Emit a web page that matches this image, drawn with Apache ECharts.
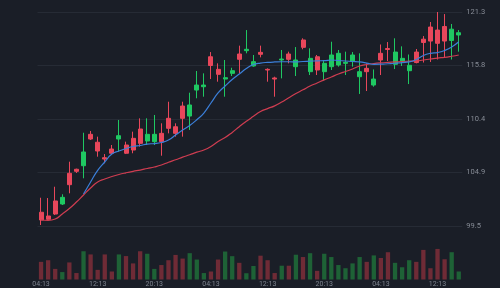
<!DOCTYPE html>
<html>
<head>
<meta charset="utf-8">
<script src="https://cdn.jsdelivr.net/npm/echarts@6/dist/echarts.min.js"></script>
<style>
html,body{margin:0;padding:0;background:#1a1e27;}
#c{width:500px;height:288px;}
</style>
</head>
<body>
<div id="c"></div>
<script>
const categories = ['04:13','05:13','06:13','07:13','08:13','09:13','10:13','11:13','12:13','13:13','14:13','15:13','16:13','17:13','18:13','19:13','20:13','21:13','22:13','23:13','00:13','01:13','02:13','03:13','04:13','05:13','06:13','07:13','08:13','09:13','10:13','11:13','12:13','13:13','14:13','15:13','16:13','17:13','18:13','19:13','20:13','21:13','22:13','23:13','00:13','01:13','02:13','03:13','04:13','05:13','06:13','07:13','08:13','09:13','10:13','11:13','12:13','13:13','14:13','15:13'];
const openV  = [100.11,100.18,100.72,102.42,103.71,105.07,107.04,108.36,107.14,106.32,106.91,108.70,106.91,107.24,107.92,108.84,108.84,108.09,109.45,108.94,110.47,111.83,113.86,113.86,115.85,114.95,114.61,115.32,116.48,117.50,116.24,116.99,115.39,114.47,116.51,116.48,116.41,117.70,116.58,115.39,116.07,116.92,117.09,116.17,116.92,115.22,115.22,114.47,116.41,117.48,117.22,116.58,115.87,116.15,118.19,118.34,118.11,118.34,119.55,119.19];
const closeV = [100.90,100.52,102.05,101.74,104.87,105.28,105.64,108.84,108.03,106.46,107.34,108.36,107.75,108.43,109.38,108.16,108.09,108.94,110.47,109.61,111.72,110.70,113.35,113.69,116.74,115.46,114.47,115.05,117.02,117.36,115.80,117.19,115.46,114.58,116.41,117.02,115.73,118.45,115.22,116.74,115.22,115.73,115.90,116.07,116.28,114.71,115.56,113.86,117.09,117.58,115.97,116.31,115.32,117.22,118.53,119.77,119.46,119.82,118.40,118.96];
const lowV   = [99.60,100.11,100.62,101.64,102.83,104.90,104.36,108.26,106.56,105.89,106.73,107.07,106.83,106.91,107.58,107.75,107.75,106.66,108.94,108.60,108.60,109.28,112.51,112.67,114.47,114.20,112.67,114.78,115.05,117.09,115.73,116.68,114.20,112.67,114.54,116.07,114.78,117.50,114.88,114.88,114.30,115.39,115.73,114.88,115.73,112.95,113.25,113.69,114.88,116.31,115.49,115.80,113.96,116.07,116.15,116.21,116.46,116.66,116.46,117.26];
const highV  = [102.38,102.35,103.50,102.73,106.05,105.34,109.00,109.18,108.60,106.83,107.75,110.30,108.09,109.11,110.47,110.47,110.81,109.96,112.16,109.96,112.16,113.08,115.29,115.05,117.22,116.07,116.41,115.62,117.87,119.46,116.92,117.87,115.56,114.71,117.43,117.26,117.73,118.62,117.60,116.92,116.41,118.27,117.43,117.26,117.22,117.09,116.07,115.45,117.99,118.24,118.62,117.80,116.97,117.53,118.85,120.28,121.30,121.09,120.08,119.46];
const volumeV = [18.3,20,11,7.7,17.7,6.7,29.3,26,10,26,8.3,26,24.3,16.7,29.3,26.7,11,15,20,25.5,21.7,27.3,20.7,6.7,8.3,20.7,29,24.2,17.3,6.5,14,24.7,20,6.7,14.3,14.3,25.7,23.3,27.3,9,26.7,23.3,15,11.7,16.7,23.3,18.3,25,22.3,28.3,17.3,12.7,20,18.3,30.7,11.7,31.7,21,28.3,8.3];
const maFast = ['-','-','-','-','-','-',102.76,103.98,105.17,106.02,106.83,107.14,107.39,107.60,107.70,107.85,107.90,108.01,108.26,108.77,109.28,109.74,110.32,111.01,112.03,113.05,113.76,114.42,114.98,115.54,115.95,116.10,116.17,116.21,116.23,116.23,116.21,116.26,116.29,116.33,116.34,116.41,116.36,116.31,116.26,116.21,116.10,115.97,115.98,116.03,116.08,116.15,116.21,116.46,116.87,117.09,117.17,117.38,117.73,118.27];
const maSlow = [100.11,100.08,100.21,100.72,101.28,101.94,102.66,103.37,103.98,104.29,104.54,104.75,104.92,105.07,105.20,105.36,105.51,105.71,106.00,106.25,106.51,106.76,107.02,107.24,107.60,108.11,108.51,109.03,109.62,110.17,110.67,111.16,111.46,111.74,112.13,112.57,112.99,113.37,113.76,114.07,114.39,114.68,114.98,115.24,115.49,115.80,115.95,116.05,116.12,116.17,116.21,116.26,116.29,116.31,116.41,116.51,116.61,116.68,116.79,116.92];
const priceTickLabels = ['99.5','104.9','110.4','115.8','121.3'];
const priceMin = 99.5, priceMax = 121.3;

const UP = '#e8475b', DOWN = '#1fc862';
const UP_VOL = '#6f2b36', DOWN_VOL = '#1e6236';

const candleData = categories.map((c, i) => [openV[i], closeV[i], lowV[i], highV[i]]);
const volData = volumeV.map((v, i) => ({
  value: v,
  itemStyle: { color: closeV[i] >= openV[i] ? UP_VOL : DOWN_VOL }
}));

const chart = echarts.init(document.getElementById('c'), null, { renderer: 'canvas' });
chart.setOption({
  backgroundColor: '#1a1e27',
  animation: false,
  grid: [
    { left: 37.5, right: 37.7, top: 12, height: 214 },
    { left: 37.5, right: 37.7, top: 239, height: 42 }
  ],
  xAxis: [
    { type: 'category', gridIndex: 0, data: categories, boundaryGap: true,
      axisLine: { show: false }, axisTick: { show: false }, axisLabel: { show: false }, splitLine: { show: false } },
    { type: 'category', gridIndex: 1, data: categories, boundaryGap: true,
      axisLine: { show: false }, axisTick: { show: false }, splitLine: { show: false },
      axisLabel: { interval: 7, color: '#7f8590', fontSize: 7, margin: 1.5, fontFamily: 'Roboto' } }
  ],
  yAxis: [
    { type: 'value', gridIndex: 0, min: priceMin, max: priceMax, show: false },
    { type: 'value', gridIndex: 0, min: 0, max: priceTickLabels.length - 1, interval: 1, position: 'right',
      axisLine: { show: false }, axisTick: { show: false },
      splitLine: { show: true, lineStyle: { color: '#262b35', width: 1 } },
      axisLabel: { color: '#878c96', fontSize: 7.5, margin: 4, fontFamily: 'Roboto',
        formatter: v => priceTickLabels[v] } },
    { type: 'value', gridIndex: 1, min: 0, max: 42, show: false }
  ],
  series: [
    { type: 'bar', xAxisIndex: 1, yAxisIndex: 2, data: volData, barWidth: 4.3 },
    { type: 'candlestick', xAxisIndex: 0, yAxisIndex: 0, data: candleData, barWidth: 4.5,
      itemStyle: { color: UP, color0: DOWN, borderColor: UP, borderColor0: DOWN, borderWidth: 1 } },
    { type: 'line', xAxisIndex: 0, yAxisIndex: 0, data: maSlow, showSymbol: false, smooth: true,
      lineStyle: { color: '#cf3d51', width: 1.2 }, z: 3 },
    { type: 'line', xAxisIndex: 0, yAxisIndex: 0, data: maFast, showSymbol: false, smooth: true,
      lineStyle: { color: '#3b7fd9', width: 1.2 }, z: 4 }
  ]
});
</script>
</body>
</html>
